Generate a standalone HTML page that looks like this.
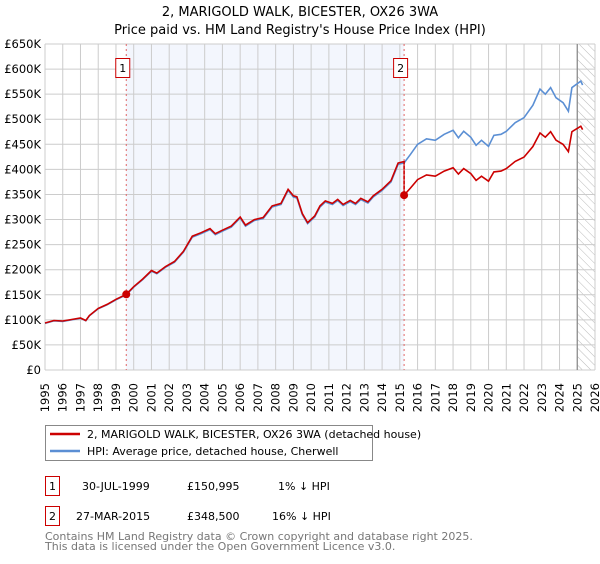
<!DOCTYPE html>
<html><head><meta charset="utf-8"><style>
body{margin:0;background:#fff;font-family:"DejaVu Sans","Liberation Sans",sans-serif;}
svg text{font-family:"DejaVu Sans","Liberation Sans",sans-serif;}
</style></head><body>
<svg id="chart" width="600" height="560" xmlns="http://www.w3.org/2000/svg">
<defs><pattern id="hatch" width="6" height="6" patternUnits="userSpaceOnUse" patternTransform="rotate(-45)"><line x1="0" y1="0" x2="0" y2="6" stroke="#bbb" stroke-width="1"/></pattern></defs>
<text x="300" y="16" text-anchor="middle" font-size="13" fill="#000">2, MARIGOLD WALK, BICESTER, OX26 3WA</text>
<text x="300" y="34" text-anchor="middle" font-size="13" fill="#000">Price paid vs. HM Land Registry's House Price Index (HPI)</text>
<g id="plot"></g>
<rect x="45.5" y="425.5" width="327" height="35" fill="#fff" stroke="#888"/>
<line x1="50" y1="434" x2="80" y2="434" stroke="#cc0000" stroke-width="2.5"/>
<text x="87" y="438" font-size="11">2, MARIGOLD WALK, BICESTER, OX26 3WA (detached house)</text>
<line x1="50" y1="451" x2="80" y2="451" stroke="#5b8fd4" stroke-width="2.5"/>
<text x="87" y="455" font-size="11">HPI: Average price, detached house, Cherwell</text>
<rect x="45.5" y="476.5" width="14" height="19" fill="#fff" stroke="#cc0000"/>
<text x="52.5" y="490" text-anchor="middle" font-size="11">1</text>
<text x="82" y="490" font-size="11">30-JUL-1999</text>
<text x="187" y="490" font-size="11">£150,995</text>
<text x="278" y="490" font-size="11">1% ↓ HPI</text>
<rect x="45.5" y="506.5" width="14" height="19" fill="#fff" stroke="#cc0000"/>
<text x="52.5" y="520" text-anchor="middle" font-size="11">2</text>
<text x="76" y="520" font-size="11">27-MAR-2015</text>
<text x="187" y="520" font-size="11">£348,500</text>
<text x="272" y="520" font-size="11">16% ↓ HPI</text>
<text x="45" y="540" font-size="11" fill="#777">Contains HM Land Registry data © Crown copyright and database right 2025.</text>
<text x="45" y="550" font-size="11" fill="#777">This data is licensed under the Open Government Licence v3.0.</text>
</svg>
<script>
const hpiYears=[1995.0,1995.5,1996.0,1996.5,1997.0,1997.3,1997.5,1998.0,1998.5,1999.0,1999.58,2000.0,2000.5,2001.0,2001.3,2001.8,2002.3,2002.8,2003.3,2003.8,2004.3,2004.6,2005.0,2005.5,2006.0,2006.3,2006.8,2007.3,2007.8,2008.3,2008.7,2009.0,2009.2,2009.5,2009.8,2010.2,2010.5,2010.8,2011.2,2011.5,2011.8,2012.2,2012.5,2012.8,2013.2,2013.5,2014.0,2014.5,2014.9,2015.24,2015.6,2016.0,2016.5,2017.0,2017.5,2018.0,2018.3,2018.6,2019.0,2019.3,2019.6,2020.0,2020.3,2020.7,2021.0,2021.5,2022.0,2022.5,2022.9,2023.2,2023.5,2023.8,2024.2,2024.5,2024.7,2025.2,2025.3];
const hpiValues=[93,98,97,100,103,98,108,122,130,140,150,165,180,197,192,205,215,235,265,272,280,270,277,285,303,287,298,302,325,330,358,345,343,310,292,305,325,335,330,338,328,336,330,340,333,345,358,375,410,413,430,450,461,458,470,478,463,476,464,448,458,446,468,470,476,493,503,528,560,550,563,543,533,516,563,576,568];
const saleYears=[1999.58,2015.24];
const saleValues=[150.995,348.5];
const yTicks=[0,50,100,150,200,250,300,350,400,450,500,550,600,650];
const yTickLabels=["£0","£50K","£100K","£150K","£200K","£250K","£300K","£350K","£400K","£450K","£500K","£550K","£600K","£650K"];
const xTicks=[1995,1996,1997,1998,1999,2000,2001,2002,2003,2004,2005,2006,2007,2008,2009,2010,2011,2012,2013,2014,2015,2016,2017,2018,2019,2020,2021,2022,2023,2024,2025,2026];

const L=45,R=595,T=44,B=370;
const x=y=>L+(y-1995)*(R-L)/31;
const yv=v=>B-v*(B-T)/650;
const NS="http://www.w3.org/2000/svg";
const g=document.getElementById('plot');
function mk(tag,attrs,parent){const e=document.createElementNS(NS,tag);for(const k in attrs)e.setAttribute(k,attrs[k]);(parent||g).appendChild(e);return e;}

let r=mk('rect',{x:x(saleYears[0]),y:T,width:x(saleYears[1])-x(saleYears[0]),height:B-T,fill:'#f3f6fd'});


let h=mk('rect',{x:x(2025.0),y:T,width:R-x(2025.0),height:B-T,fill:'url(#hatch)'});



yTicks.forEach((v,i)=>{
  let l=mk('line',{x1:L,x2:R,y1:yv(v),y2:yv(v),stroke:'#ccc','stroke-width':1});
  
  
  let t=mk('text',{x:L-4,y:yv(v)+4,'text-anchor':'end','font-size':11.5,fill:'#000'});
  t.textContent=yTickLabels[i];
  
  
});
xTicks.forEach(yr=>{
  let l=mk('line',{x1:x(yr),x2:x(yr),y1:T,y2:B,stroke:'#ccc','stroke-width':1});
  
  
  let t=mk('text',{x:0,y:0,'text-anchor':'end','font-size':11.5,fill:'#000',transform:`translate(${x(yr)+4},${B+13}) rotate(-90)`});
  t.textContent=yr;
  
  
});
let fl=mk('line',{x1:x(2025.0),x2:x(2025.0),y1:T,y2:B,stroke:'#888','stroke-width':1.2});



let hp=hpiYears.map((yr,i)=>x(yr).toFixed(1)+','+yv(hpiValues[i]).toFixed(1)).join(' ');
let hl=mk('polyline',{points:hp,fill:'none',stroke:'#5b8fd4','stroke-width':1.6});



function hpiAt(yr){for(let i=1;i<hpiYears.length;i++){if(yr<=hpiYears[i]){const f=(yr-hpiYears[i-1])/(hpiYears[i]-hpiYears[i-1]);return hpiValues[i-1]+f*(hpiValues[i]-hpiValues[i-1]);}}return hpiValues[hpiValues.length-1];}
const ratio1=saleValues[0]/hpiAt(saleYears[0]);
const ratio2=saleValues[1]/hpiAt(saleYears[1]);
let pts=[];
hpiYears.forEach((yr,i)=>{ if(yr<saleYears[1]) pts.push([yr,hpiValues[i]*ratio1]); });
pts.push([saleYears[1],hpiAt(saleYears[1])*ratio1]);
pts.push([saleYears[1],saleValues[1]]);
hpiYears.forEach((yr,i)=>{ if(yr>saleYears[1]) pts.push([yr,hpiValues[i]*ratio2]); });
let pl=mk('polyline',{points:pts.map(p=>x(p[0]).toFixed(1)+','+yv(p[1]).toFixed(1)).join(' '),fill:'none',stroke:'#cc0000','stroke-width':1.6});



saleYears.forEach((yr,i)=>{
  let vl=mk('line',{x1:x(yr),x2:x(yr),y1:T,y2:B,stroke:'#e06666','stroke-width':1,'stroke-dasharray':'2,3'});
  
  
  let c=mk('circle',{cx:x(yr),cy:yv(saleValues[i]),r:4,fill:'#cc0000'});
  
  
  let b=mk('rect',{x:x(yr)-10.5,y:58.5,width:14,height:19,fill:'#fff',stroke:'#cc0000'});
  
  
  let t=mk('text',{x:x(yr)-3.5,y:72,'text-anchor':'middle','font-size':11});
  t.textContent=String(i+1);
  
  
});
</script>
</body></html>
